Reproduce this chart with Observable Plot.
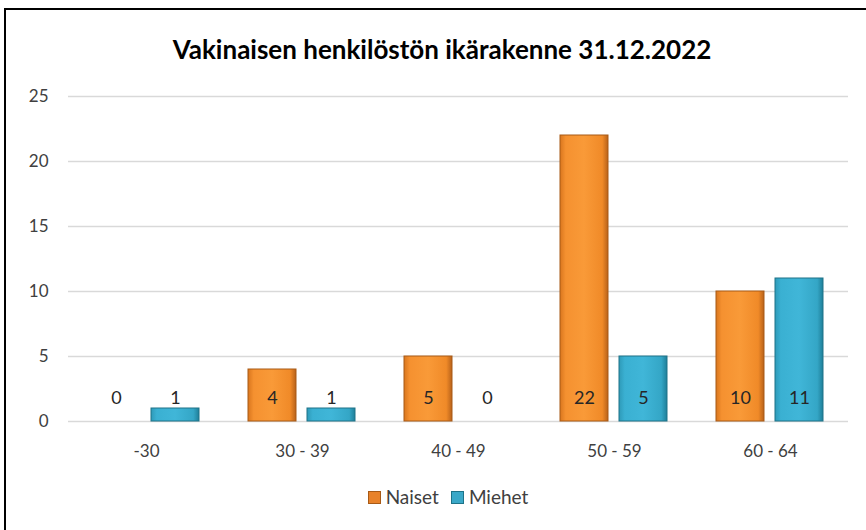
<!DOCTYPE html>
<html>
<head>
<meta charset="utf-8">
<script src="https://cdn.jsdelivr.net/npm/d3@7"></script>
<script src="https://cdn.jsdelivr.net/npm/@observablehq/plot@0.6"></script>
<style>
  html, body { margin: 0; padding: 0; background: #fff; }
  #wrap { position: relative; width: 866px; height: 530px; overflow: hidden; font-family: Lato, "Open Sans", sans-serif; }
  #frame { position: absolute; left: 4px; top: 8px; width: 900px; height: 600px; border-left: 2.5px solid #000; border-top: 2.5px solid #000; box-sizing: border-box; }
  #title { position: absolute; left: 0; width: 884px; top: 33px; text-align: center; font-size: 26px; font-weight: bold; color: #000; }
  #legend { position: absolute; left: 0; width: 896px; top: 485px; text-align: center; font-size: 19px; color: #404040; }
  #legend span.sw { display: inline-block; width: 11px; height: 11px; margin-right: 5px; vertical-align: 0px; }
  #legend span.item { margin: 0 6px; }
  #chart { position: absolute; left: 0; top: 0; }
</style>
</head>
<body>
<div id="wrap">
  <div id="frame"></div>
  <div id="chart"></div>
  <div id="title">Vakinaisen henkilöstön ikärakenne 31.12.2022</div>
  <div id="legend"></div>
</div>
<svg width="0" height="0" style="position:absolute">
  <defs>
    <linearGradient id="gO" x1="0" x2="1" y1="0" y2="0">
      <stop offset="0" stop-color="#D9761E"/>
      <stop offset="0.12" stop-color="#F59130"/>
      <stop offset="0.5" stop-color="#F99A38"/>
      <stop offset="0.88" stop-color="#F08A28"/>
      <stop offset="1" stop-color="#B8621A"/>
    </linearGradient>
    <linearGradient id="gB" x1="0" x2="1" y1="0" y2="0">
      <stop offset="0" stop-color="#2E9AB8"/>
      <stop offset="0.12" stop-color="#3AB0D2"/>
      <stop offset="0.5" stop-color="#40B6D8"/>
      <stop offset="0.88" stop-color="#34A6C6"/>
      <stop offset="1" stop-color="#1F7F99"/>
    </linearGradient>
  </defs>
</svg>
<script>
const categories = ["-30", "30 - 39", "40 - 49", "50 - 59", "60 - 64"];
const series = ["Naiset", "Miehet"];
const naiset = [0, 4, 5, 22, 10];
const miehet = [1, 1, 0, 5, 11];
const yTicks = [0, 5, 10, 15, 20, 25];

const fills = {Naiset: "url(#gO)", Miehet: "url(#gB)"};
const strokes = {Naiset: "#A85A16", Miehet: "#1E7388"};
const swatch = {Naiset: "#E8822A", Miehet: "#3AA8C8"};

const data = [];
categories.forEach((c, i) => {
  data.push({cat: c, series: "Naiset", value: naiset[i]});
  data.push({cat: c, series: "Miehet", value: miehet[i]});
});

const plot = Plot.plot({
  width: 866,
  height: 530,
  marginLeft: 67,
  marginRight: 18,
  marginTop: 96,
  marginBottom: 109,
  style: {fontFamily: "Lato, 'Open Sans', sans-serif", fontSize: "17px", color: "#404040", background: "transparent"},
  fx: {domain: categories, padding: 0, label: null, axis: "bottom", tickSize: 0, tickPadding: 23},
  x: {domain: series, paddingInner: 0.18, paddingOuter: 0.4, axis: null},
  y: {domain: [0, 25], ticks: yTicks, label: null, tickSize: 0, tickPadding: 20, grid: false},
  marks: [
    Plot.ruleY(yTicks, {stroke: "#d9d9d9", strokeWidth: 1.5}),
    Plot.barY(data, {
      fx: "cat", x: "series", y: "value",
      fill: d => fills[d.series],
      stroke: d => strokes[d.series],
      strokeWidth: 1
    }),
    Plot.text(data, {
      fx: "cat", x: "series", y: () => 0,
      text: d => String(d.value),
      dy: -23, fontSize: 18, fill: "#262626"
    })
  ]
});
document.getElementById("chart").appendChild(plot);

const legend = document.getElementById("legend");
series.forEach(s => {
  const item = document.createElement("span");
  item.className = "item";
  item.innerHTML = `<span class="sw" style="background:${swatch[s]};border:1px solid ${strokes[s]}"></span>${s}`;
  legend.appendChild(item);
});
</script>
</body>
</html>
